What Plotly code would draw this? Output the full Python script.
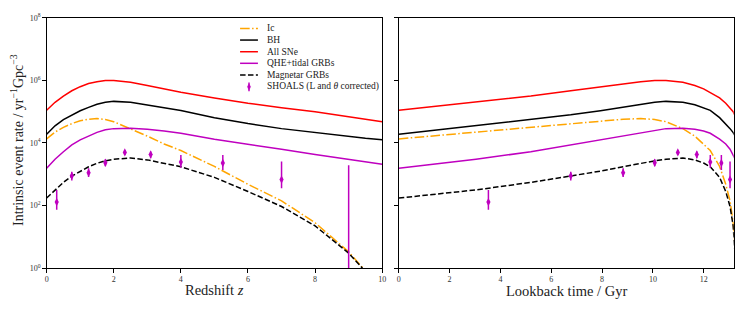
import plotly.graph_objects as go

# ---------------- data ----------------
redshift = [0, 0.25, 0.5, 0.75, 1, 1.25, 1.5, 1.75, 2, 2.5, 3, 3.5, 4, 5, 6, 7, 8, 9, 9.5, 10]
# lookback time (Gyr) of the same redshifts
lookback_gyr = [0, 3.036, 5.195, 6.766, 7.935, 8.827, 9.520, 10.069, 10.513, 11.178, 11.648,
                11.993, 12.255, 12.622, 12.864, 13.033, 13.157, 13.250, 13.289, 13.323]

rate_ic = [1.35e4, 2.24e4, 3.16e4, 4.17e4, 5.13e4, 5.75e4, 6.03e4, 5.62e4, 4.79e4, 2.88e4, 1.66e4,
           9.33e3, 5.75e3, 1.78e3, 479, 141, 28.2, 3.31, 0.79, 0.2]
rate_bh = [1.91e4, 3.55e4, 5.62e4, 7.94e4, 1.07e5, 1.38e5, 1.74e5, 2.0e5, 2.14e5, 2.0e5, 1.66e5,
           1.35e5, 1.10e5, 6.46e4, 4.17e4, 2.88e4, 2.14e4, 1.62e4, 1.41e4, 1.26e4]
rate_all_sne = [1.12e5, 2.0e5, 3.16e5, 4.68e5, 6.31e5, 7.94e5, 9.12e5, 1.0e6, 1.0e6, 8.71e5, 6.92e5,
                5.37e5, 4.17e5, 2.75e5, 1.86e5, 1.35e5, 1.0e5, 6.92e4, 5.75e4, 4.79e4]
rate_qhe_tidal = [1549, 3020, 5248, 8710, 1.26e4, 1.70e4, 2.19e4, 2.63e4, 2.88e4, 2.95e4, 2.75e4,
                  2.40e4, 2.04e4, 1.32e4, 9333, 6310, 4266, 2951, 2512, 2089]
rate_magnetar = [174, 316, 550, 871, 1259, 1738, 2239, 2692, 3020, 3311, 2884,
                 2291, 1738, 794, 282, 93.3, 22.4, 3.02, 0.79, 0.2]

shoals_z = [0.3, 0.75, 1.25, 1.75, 2.33, 3.1, 4.0, 5.25, 7.0, 9.0]
shoals_lookback = [3.526, 6.766, 8.827, 10.069, 10.979, 11.725, 12.255, 12.692, 13.033, 13.250]
shoals_rate = [129, 891, 1122, 2344, 5012, 4266, 2455, 2291, 676, 0.5]
shoals_hi = [316, 1202, 1549, 3020, 6026, 5370, 4169, 4169, 2570, 1950]
shoals_lo = [74, 631, 813, 1820, 4169, 3236, 1622, 1380, 355, 0.01]

series = [
    ("Ic", rate_ic, "#FFA500", "9.6px,2.4px,1.5px,2.4px"),
    ("BH", rate_bh, "#000000", "solid"),
    ("All SNe", rate_all_sne, "#FF0000", "solid"),
    ("QHE+tidal GRBs", rate_qhe_tidal, "#BF00BF", "solid"),
    ("Magnetar GRBs", rate_magnetar, "#000000", "5.5px,2.4px"),
]
shoals_label = "SHOALS (L and <i>θ</i> corrected)"
MAG = "#BF00BF"
FONT = "Liberation Serif"

W, H = 747, 312
fig = go.Figure()

err_plus = [h - c for h, c in zip(shoals_hi, shoals_rate)]
err_minus = [c - l for c, l in zip(shoals_rate, shoals_lo)]

for xa, ya, xs, xp in [("x", "y", redshift, shoals_z), ("x2", "y2", lookback_gyr, shoals_lookback)]:
    for name, vals, col, dash in series:
        fig.add_trace(go.Scatter(x=xs, y=vals, mode="lines", name=name, showlegend=False,
                                 line=dict(color=col, width=1.5, dash=dash),
                                 xaxis=xa, yaxis=ya))
    fig.add_trace(go.Scatter(x=xp, y=shoals_rate, mode="markers", showlegend=False,
                             marker=dict(symbol="diamond-tall", size=6, color=MAG),
                             error_y=dict(type="data", symmetric=False, array=err_plus,
                                          arrayminus=err_minus, color=MAG, thickness=1.5, width=0),
                             xaxis=xa, yaxis=ya))

axis_common = dict(showline=True, mirror=True, linecolor="black", linewidth=1,
                   ticks="outside", ticklen=3.5, tickwidth=0.8, tickcolor="black",
                   showgrid=False, zeroline=False,
                   tickfont=dict(family=FONT, size=8, color="#333"))

ytickvals = [1, 1e2, 1e4, 1e6, 1e8]
yticktext = ["10<sup>0</sup>", "10<sup>2</sup>", "10<sup>4</sup>", "10<sup>6</sup>", "10<sup>8</sup>"]

fig.update_layout(
    width=W, height=H, margin=dict(l=0, r=0, t=0, b=0),
    paper_bgcolor="white", plot_bgcolor="white", showlegend=False,
    xaxis=dict(domain=[45 / W, 383.3 / W], range=[0, 10], tickvals=[0, 2, 4, 6, 8, 10],
               anchor="y", **axis_common),
    xaxis2=dict(domain=[400 / W, 737.7 / W], range=[0, 13.18], tickvals=[0, 2, 4, 6, 8, 10, 12],
                anchor="y2", **axis_common),
    yaxis=dict(domain=[1 - 271.7 / H, 1 - 12.3 / H], type="log", range=[0, 8],
               tickvals=ytickvals, ticktext=yticktext, anchor="x", **axis_common),
    yaxis2=dict(domain=[1 - 271.7 / H, 1 - 12.3 / H], type="log", range=[0, 8],
                tickvals=ytickvals, showticklabels=False, anchor="x2", matches="y", **axis_common),
)

# axis titles
ann = [
    dict(text="Redshift <i>z</i>", x=214 / W, y=1 - 294 / H, showarrow=False,
         xref="paper", yref="paper", xanchor="center", yanchor="middle",
         font=dict(family=FONT, size=14.5, color="#222")),
    dict(text="Lookback time / Gyr", x=569 / W, y=1 - 295 / H, showarrow=False,
         xref="paper", yref="paper", xanchor="center", yanchor="middle",
         font=dict(family=FONT, size=14.5, color="#222")),
    dict(text="Intrinsic event rate / yr<sup>−1</sup>Gpc<sup>−3</sup>", x=15 / W, y=1 - 139 / H,
         showarrow=False, textangle=-90, xref="paper", yref="paper",
         xanchor="center", yanchor="middle", font=dict(family=FONT, size=14, color="#222")),
]

# custom legend
rows = [23.3, 35.3, 47.4, 59.4, 71.4, 83.8]
shapes = []
def px(p):
    return p / W
def py(p):
    return 1 - p / H
for (name, vals, col, dash), ry in zip(series, rows[:5]):
    shapes.append(dict(type="line", xref="paper", yref="paper", x0=px(240), x1=px(258),
                       y0=py(ry), y1=py(ry), line=dict(color=col, width=1.5, dash=dash)))
    ann.append(dict(text=name, x=px(265), y=py(ry), xref="paper", yref="paper", showarrow=False,
                    xanchor="left", yanchor="middle", font=dict(family=FONT, size=9.5, color="#222")))
ry = rows[5]
shapes.append(dict(type="line", xref="paper", yref="paper", x0=px(249), x1=px(249),
                   y0=py(ry - 4.5), y1=py(ry + 4.5), line=dict(color=MAG, width=1.5)))
shapes.append(dict(type="path", xref="paper", yref="paper",
                   path=f"M {px(249)} {py(ry-3)} L {px(250.6)} {py(ry)} L {px(249)} {py(ry+3)} L {px(247.4)} {py(ry)} Z",
                   fillcolor=MAG, line=dict(color=MAG, width=0.5)))
ann.append(dict(text=shoals_label, x=px(265), y=py(ry), xref="paper", yref="paper", showarrow=False,
                xanchor="left", yanchor="middle", font=dict(family=FONT, size=9.5, color="#222")))

fig.update_layout(annotations=ann, shapes=shapes)
fig.write_html("out.html", config={"displayModeBar": False},
               post_script="document.body.style.margin='0';document.body.style.overflow='hidden';")
